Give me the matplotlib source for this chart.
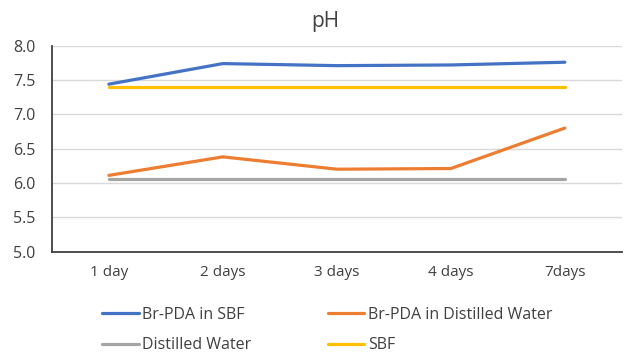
"""pH of Br-PDA samples over time."""

import matplotlib
matplotlib.use("Agg")
import matplotlib.pyplot as plt

DAYS = ["1 day", "2 days", "3 days", "4 days", "7days"]
BR_PDA_SBF = [7.44, 7.74, 7.71, 7.72, 7.76]
BR_PDA_WATER = [6.11, 6.38, 6.20, 6.21, 6.80]
WATER = [6.06, 6.06, 6.06, 6.06, 6.06]
SBF = [7.40, 7.40, 7.40, 7.40, 7.40]

SERIES = [
    ("Br-PDA in SBF", BR_PDA_SBF, "#4472C4"),
    ("Br-PDA in Distilled Water", BR_PDA_WATER, "#ED7D31"),
    ("Distilled Water", WATER, "#A5A5A5"),
    ("SBF", SBF, "#FFC000"),
]

plt.rcParams["font.family"] = ["Open Sans", "DejaVu Sans"]

fig = plt.figure(figsize=(6.25, 3.52), dpi=100)
ax = fig.add_axes([0.083, 0.2855, 0.912, 0.5845])

x = range(len(DAYS))
lines = []
for label, values, color in SERIES:
    (ln,) = ax.plot(x, values, color=color, lw=2.3, label=label, solid_capstyle="round")
    lines.append(ln)

ax.set_xlim(-0.5, len(DAYS) - 0.5)
ax.set_ylim(5.0, 8.0)
ax.set_yticks([5.0, 5.5, 6.0, 6.5, 7.0, 7.5, 8.0])
ax.set_yticklabels([f"{v:.1f}" for v in ax.get_yticks()])
ax.set_xticks(list(x))
ax.set_xticklabels(DAYS)
ax.tick_params(axis="both", length=0, labelsize=11, colors="#404040")
ax.tick_params(axis="x", pad=10)
ax.tick_params(axis="y", pad=12, labelsize=11.5)
ax.grid(axis="y", color="#D9D9D9", lw=1)
ax.set_axisbelow(True)
for side in ["top", "right"]:
    ax.spines[side].set_visible(False)
for side in ["left", "bottom"]:
    ax.spines[side].set_color("#404040")
    ax.spines[side].set_linewidth(1.3)

fig.text(0.52, 0.94, "pH", ha="center", va="center", fontsize=15, color="#404040")

# matplotlib fills legend columns first, so reorder to get row-wise layout
order = [0, 2, 1, 3]
fig.legend(
    [lines[i] for i in order],
    [SERIES[i][0] for i in order],
    loc="upper left",
    bbox_to_anchor=(0.163, 0.128),
    ncol=2,
    frameon=False,
    fontsize=11.5,
    handlelength=2.3,
    handletextpad=0.2,
    columnspacing=4.8,
    labelspacing=0.9,
    borderaxespad=0,
    borderpad=0,
    labelcolor="#404040",
)

fig.savefig("out.png", dpi=100)
